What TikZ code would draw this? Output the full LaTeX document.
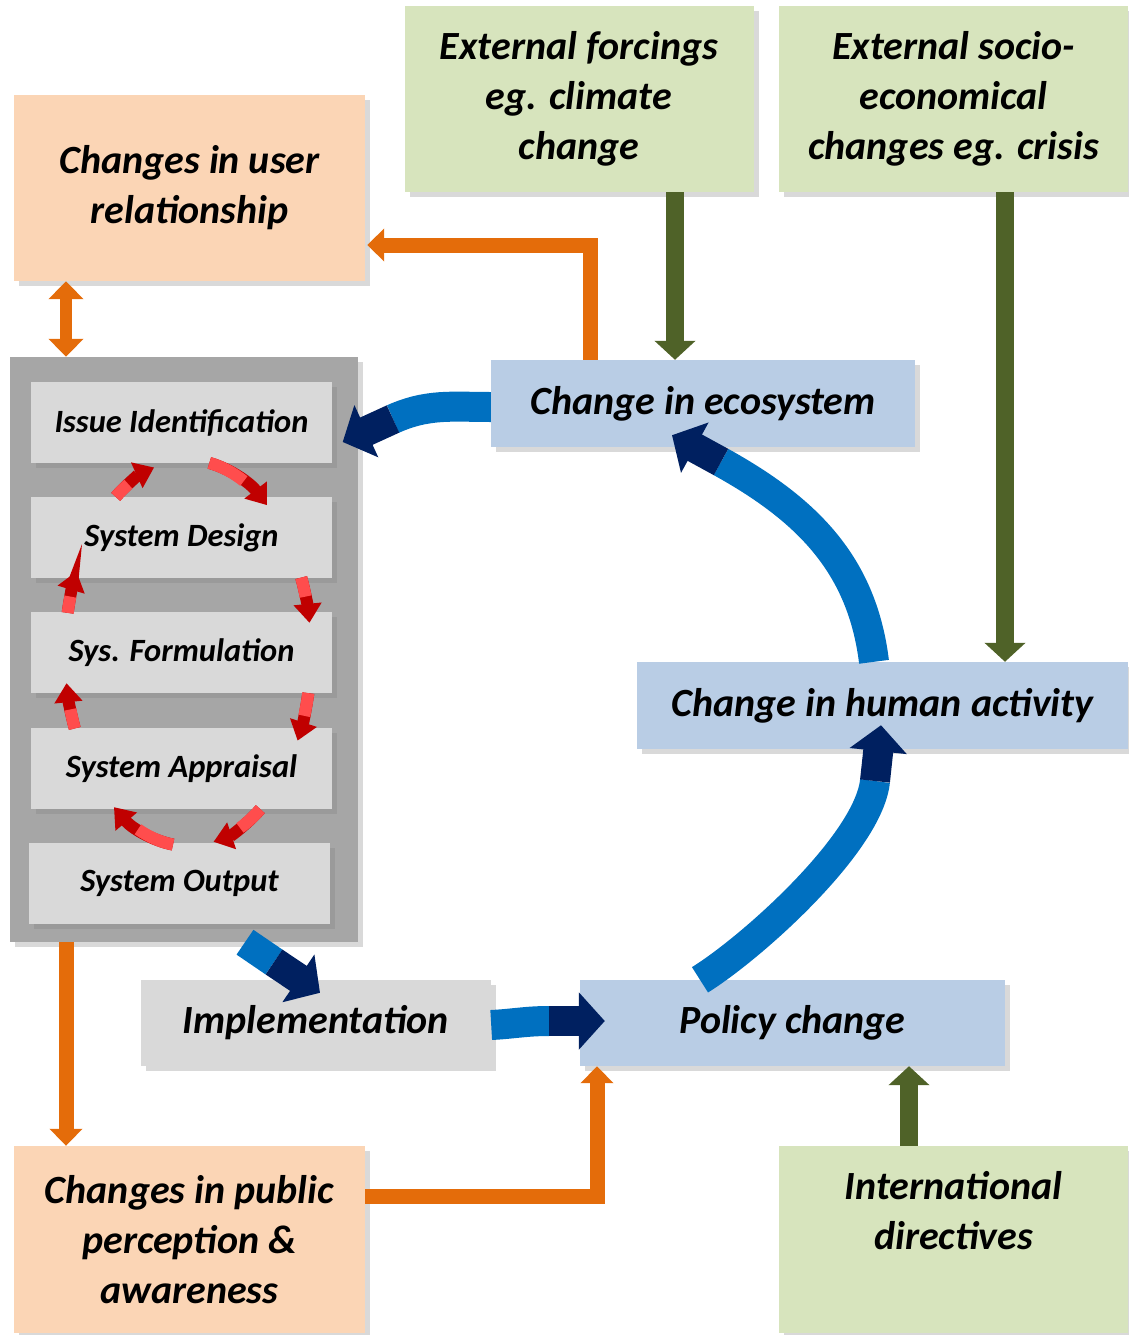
\documentclass[tikz,border=0pt]{standalone}
\usepackage{fontspec}
\setmainfont{Carlito}
\usepackage{tikz}
\usetikzlibrary{arrows.meta,positioning,shadows}
\definecolor{peach}{HTML}{FBD5B5}
\definecolor{lolive}{HTML}{D7E4BD}
\definecolor{lsky}{HTML}{B9CDE5}
\definecolor{lgray}{HTML}{D9D9D9}
\definecolor{mgray}{HTML}{A6A6A6}
\definecolor{orng}{HTML}{E46C0A}
\definecolor{dolive}{HTML}{4F6228}
\definecolor{azure}{HTML}{0070C0}
\definecolor{navy}{HTML}{002060}
\definecolor{lred}{HTML}{FF4D4D}
\definecolor{dred}{HTML}{C00000}

\begin{document}
\begin{tikzpicture}[x=1pt,y=-1pt,line join=miter]
	\tikzstyle{box}=[rectangle,inner sep=0pt,align=center,
	font=\bfseries\itshape\fontsize{40}{50}\selectfont,
	drop shadow={shadow xshift=5pt,shadow yshift=-5pt,opacity=0.3}
	]
	\tikzstyle{pb}=[box,fill=peach,minimum width=351pt,minimum height=186pt];
	\tikzstyle{gb}=[box,fill=lolive,minimum width=349pt,minimum height=186pt];
	\tikzstyle{bb}=[box,fill=lsky,minimum height=87pt];
	\tikzstyle{sb}=[box,fill=lgray,minimum width=301pt,minimum height=81pt,
	font=\bfseries\itshape\fontsize{32.5}{38}\selectfont];
	\tikzstyle{oa}=[draw=orng,line width=15pt,-{Triangle[width=32pt,length=17pt]}];
	\tikzstyle{ga}=[draw=dolive,line width=18pt,-{Triangle[width=40pt,length=19pt]}];
	\tikzstyle{shaft}=[draw=azure,line width=30pt];
	\tikzstyle{head}=[draw=navy,line width=30pt,-{Triangle[width=56pt,length=26pt]}];
\useasboundingbox (0,0) rectangle (1128,1335);

\node[pb](userrel) at (189.5,188){Changes in user\\relationship};
\node[gb](forcing) at (579,99){External forcings\\eg. climate\\change};
\node[gb](socio) at (953.5,99){External socio-\\economical\\changes eg. crisis};

\node[box,fill=mgray,minimum width=348pt,minimum height=585pt](container) at (184,649.5){};
\node[sb](issue) at (181.5,422.5){Issue Identification};
\node[sb](design) at (181.5,537.5){System Design};
\node[sb](formul) at (181.5,652.5){Sys. Formulation};
\node[sb](apprais) at (181.5,768.5){System Appraisal};
\node[sb](output) at (179.5,883){System Output};

\node[bb,minimum width=424pt](eco) at (703,403.5){Change in ecosystem};
\node[bb,minimum width=491pt](human) at (882.5,705.5){Change in human activity};
\node[bb,minimum width=425pt,minimum height=86pt](policy) at (792.5,1023){Policy change};
\node[box,fill=lgray,minimum width=350pt,minimum height=86pt](impl) at (316,1023){Implementation};

\node[pb,minimum height=187pt](public) at (189.5,1239.5){Changes in public\\perception \&\\awareness};
\node[gb,minimum height=187pt,label={[align=center,font=\bfseries\itshape\fontsize{40}{50}\selectfont,yshift=29pt]center:{International\\directives}}](intl) at (953.5,1239.5){};

% review cycle
\coordinate (cyc) at (188,653);
\foreach \s/\e/\d in {-80/-50/13,-23/-9/8,12/27/8,54/78/13,97/127/13,157/171/8,192/205/8,234/254/13}{
	\pgfmathsetmacro\m{\e-\d}
	\draw[line width=12pt,draw=dred,-{Triangle[width=27pt,length=19pt]}] (cyc) ++(\s:123 and 193) arc[start angle=\s,end angle=\e,x radius=123,y radius=193];
	\draw[line width=12pt,draw=lred] (cyc) ++(\s:123 and 193) arc[start angle=\s,end angle=\m,x radius=123,y radius=193];
}

\draw [draw=orng,line width=12pt,{Triangle[width=34pt,length=18pt]}-{Triangle[width=34pt,length=18pt]}] (userrel.south -| 66,0) -- (container.north -| 66,0);
\draw [oa] (eco.north -| 590,0) |- ([xshift=2pt]userrel.east |- 0,245);
\draw [oa] (container.south -| 66,0) -- (public.north -| 66,0);
\draw [oa] (public.east |- 0,1196) -| (policy.south -| 597,0);

\draw [ga] (forcing.south -| 675,0) -- (eco.north -| 675,0);
\draw [ga] (socio.south -| 1005,0) -- (human.north -| 1005,0);
\draw [ga] (intl.north -| 909,0) -- (policy.south -| 909,0);

% main loop
\coordinate (j1) at (393,419);
\coordinate (j2) at (721,462);
\coordinate (j3) at (875,781);
\coordinate (j4) at (274,962);
\coordinate (j5) at (549,1021);
\draw [shaft] (eco.west |- 0,407) to[out=180,in=24] (j1);
\draw [head] (j1) -- ([xshift=10.5pt,yshift=-19.5pt]issue.east);
\draw [shaft] (human.north -| 874,0) to[out=97,in=-29] (j2);
\draw [head] (j2) -- ([xshift=-31pt,yshift=12pt]eco.south);
\draw [shaft] (policy.north -| 700,0) to[out=32,in=-96,looseness=0.6] (j3);
\draw [head] (j3) -- ([xshift=-1.5pt,yshift=24pt]human.south);
\draw [shaft] (container.south -| 245,0) -- (j4);
\draw [head] (j4) -- ([xshift=4pt,yshift=-13pt]impl.north);
\draw [shaft] (impl.east |- 0,1025) to[out=3,in=180] (j5);
\draw [head] (j5) -- ([xshift=25pt,yshift=2pt]policy.west);

\end{tikzpicture}
\end{document}
